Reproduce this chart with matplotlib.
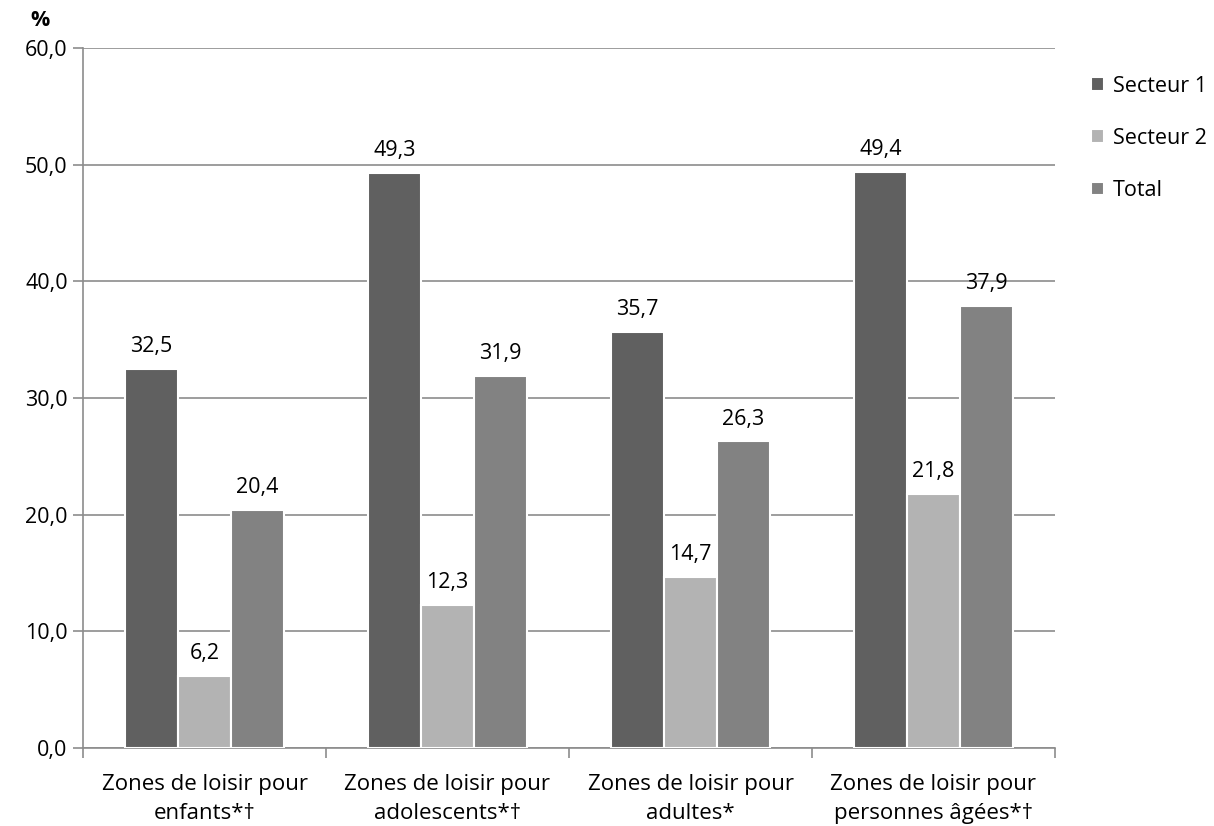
import matplotlib
matplotlib.use("Agg")
import matplotlib.pyplot as plt
import numpy as np

categories = ["Zones de loisir pour\nenfants*\u2020", "Zones de loisir pour\nadolescents*\u2020",
              "Zones de loisir pour\nadultes*", "Zones de loisir pour\npersonnes âgées*\u2020"]
series_names = ["Secteur 1", "Secteur 2", "Total"]
secteur1 = [32.5, 49.3, 35.7, 49.4]
secteur2 = [6.2, 12.3, 14.7, 21.8]
total = [20.4, 31.9, 26.3, 37.9]
colors = ["#606060", "#b3b3b3", "#828282"]
yticks = [0, 10, 20, 30, 40, 50, 60]

plt.rcParams['font.family'] = ['Open Sans', 'DejaVu Sans']
FS = 15.5

fig = plt.figure(figsize=(12.14, 8.26), dpi=100)
ax = fig.add_axes([83/1214, 1-748/826, (1055-83)/1214, (748-48)/826])

x = np.arange(len(categories))
w = 0.218
data = [secteur1, secteur2, total]
for i, (vals, name, c) in enumerate(zip(data, series_names, colors)):
    pos = x + (i - 1) * w
    ax.bar(pos, vals, w, color=c, edgecolor="white", linewidth=1.5, label=name, zorder=3)
    for p, v in zip(pos, vals):
        ax.text(p, v + 1.0, f"{v:.1f}".replace(".", ","), ha="center", va="bottom", fontsize=FS, color="black", zorder=4)

ax.set_xlim(-0.5, len(categories) - 0.5)
ax.set_ylim(0, 60)
ax.set_yticks(yticks)
ax.set_yticklabels([f"{t:.1f}".replace(".", ",") for t in yticks], fontsize=FS)
ax.yaxis.grid(True, color="#8c8c8c", linewidth=1.2, zorder=0)
ax.set_axisbelow(True)
for s in ["top", "right"]:
    ax.spines[s].set_visible(False)
for s in ["left", "bottom"]:
    ax.spines[s].set_color("#8c8c8c")
    ax.spines[s].set_linewidth(1.2)
ax.tick_params(axis="y", length=7, color="#8c8c8c", width=1.2, pad=4)
ax.set_xticks(np.arange(-0.5, len(categories) + 0.5, 1))
ax.set_xticklabels([])
ax.tick_params(axis="x", length=7, color="#8c8c8c", width=1.2)
ax.set_xticks(x, minor=True)
ax.set_xticklabels(categories, minor=True, fontsize=16, linespacing=1.45)
ax.tick_params(axis="x", which="minor", length=0, pad=19)

fig.text(40/1214, 1-20/826, "%", fontsize=FS, fontweight="bold", ha="center", va="center")

leg = ax.legend(loc="upper left", bbox_to_anchor=(1082/1214, 1-67/826), bbox_transform=fig.transFigure,
                frameon=False, fontsize=FS, handlelength=0.6, handleheight=0.6, handletextpad=0.45,
                labelspacing=1.45, borderaxespad=0)

fig.savefig("out.png", dpi=100)
